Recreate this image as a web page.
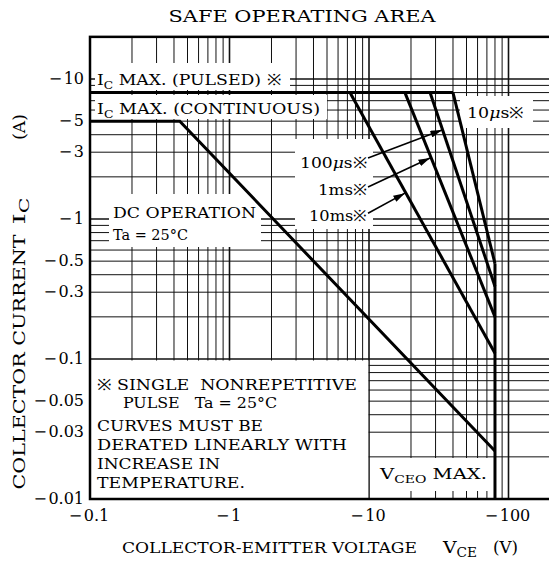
<!DOCTYPE html>
<html lang="en">
  <head>
    <meta charset="UTF-8" />
    <title>Safe Operating Area</title>
    <script src="https://d3js.org/d3.v7.min.js"></script>
    <style>
      body {
        margin: 0;
        background: #fff;
      }
      svg {
        display: block;
        font-family: "DejaVu Serif", serif;
      }
      svg text {
        white-space: pre;
      }
      .grid line {
        stroke: #111;
        stroke-width: 1;
      }
      .grid line.major {
        stroke-width: 1.6;
      }
      .curve {
        fill: none;
        stroke: #000;
        stroke-width: 3;
      }
    </style>
  </head>
  <body>
    <svg id="chart"></svg>
    <script>
      // axis ticks (values are magnitudes, labels carry the minus sign)
      const xTicks = [0.1, 1, 10, 100];
      const xTickLabels = ["−0.1", "−1", "−10", "−100"];
      const yTicks = [10, 5, 3, 1, 0.5, 0.3, 0.1, 0.05, 0.03, 0.01];
      const yTickLabels = ["−10", "−5", "−3", "−1", "−0.5", "−0.3", "−0.1", "−0.05", "−0.03", "−0.01"];

      // curves [VCE (V), IC (A)]
      const icPulsed = [[0.1, 8], [40, 8]];
      const dcOperation = [[0.1, 5], [0.44, 5], [80, 0.022]];
      const pulse10ms = [[7.3, 8], [80, 0.11]];
      const pulse1ms = [[18.1, 8], [80, 0.2]];
      const pulse100us = [[27.4, 8], [80, 0.33]];
      const pulse10us = [[40, 8], [80, 0.48]];
      const vceoMax = [[80, 0.48], [80, 0.01]];

      // arrows from labels to the pulse curves
      const arrows = [
        [[9.84, 2.73], [33.4, 4.32]],
        [[9.84, 1.69], [27.4, 2.73]],
        [[9.84, 1.1], [18.1, 1.53]],
      ];

      const width = 549;
      const height = 562;

      const x = d3
        .scaleLog()
        .domain([0.1, 200])
        .range([90, 90 + 139.5 * Math.log10(2000)]);
      const y = d3
        .scaleLog()
        .domain([0.01, 20])
        .range([499, 499 - 140 * Math.log10(2000)]);

      const svg = d3
        .select("#chart")
        .attr("width", width)
        .attr("height", height)
        .attr("viewBox", [0, 0, width, height]);

      svg.append("rect").attr("width", width).attr("height", height).attr("fill", "#fff");

      // grid values
      const xGrid = [];
      [0.1, 1, 10, 100].forEach((d) => {
        for (let k = 1; k <= 9; k++) if (d * k < 200) xGrid.push({ v: d * k, major: k === 1 });
      });
      const yGrid = [];
      [0.01, 0.1, 1, 10].forEach((d) => {
        for (let k = 1; k <= 9; k++) if (d * k < 20) yGrid.push({ v: d * k, major: k === 1 });
      });

      const [x0, x1] = x.range();
      const [y0, y1] = y.range();

      const grid = svg.append("g").attr("class", "grid");
      grid
        .selectAll("line.v")
        .data(xGrid)
        .join("line")
        .attr("class", (d) => (d.major ? "v major" : "v"))
        .attr("x1", (d) => x(d.v))
        .attr("x2", (d) => x(d.v))
        .attr("y1", y0)
        .attr("y2", y1);
      grid
        .selectAll("line.h")
        .data(yGrid)
        .join("line")
        .attr("class", (d) => (d.major ? "h major" : "h"))
        .attr("x1", x0)
        .attr("x2", x1)
        .attr("y1", (d) => y(d.v))
        .attr("y2", (d) => y(d.v));

      // white label boxes
      const boxes = [
        [95, 63, 290, 90],
        [95, 95, 327, 119],
        [460, 96, 533, 128],
        [295, 139, 373, 229],
        [109, 194, 261, 247],
        [91, 360.5, 368.3, 498],
        [371, 458, 492, 491],
      ];
      svg
        .append("g")
        .selectAll("rect")
        .data(boxes)
        .join("rect")
        .attr("x", (d) => d[0])
        .attr("y", (d) => d[1])
        .attr("width", (d) => d[2] - d[0])
        .attr("height", (d) => d[3] - d[1])
        .attr("fill", "#fff");

      // curves
      const line = d3
        .line()
        .x((d) => x(d[0]))
        .y((d) => y(d[1]));
      svg
        .append("g")
        .selectAll("path")
        .data([icPulsed, dcOperation, pulse10ms, pulse1ms, pulse100us, pulse10us, vceoMax])
        .join("path")
        .attr("class", "curve")
        .attr("d", line);

      // border
      svg
        .append("rect")
        .attr("x", x0)
        .attr("y", y1)
        .attr("width", x1 - x0)
        .attr("height", y0 - y1)
        .attr("fill", "none")
        .attr("stroke", "#000")
        .attr("stroke-width", 2.5);

      // arrows
      svg
        .append("defs")
        .append("marker")
        .attr("id", "head")
        .attr("viewBox", "0 0 10 6")
        .attr("refX", 10)
        .attr("refY", 3)
        .attr("markerUnits", "userSpaceOnUse")
        .attr("markerWidth", 12)
        .attr("markerHeight", 7)
        .attr("orient", "auto")
        .append("path")
        .attr("d", "M0,0L10,3L0,6Z")
        .attr("fill", "#000");
      svg
        .append("g")
        .selectAll("path")
        .data(arrows)
        .join("path")
        .attr("d", line)
        .attr("stroke", "#000")
        .attr("stroke-width", 1.6)
        .attr("fill", "none")
        .attr("marker-end", "url(#head)");

      // tick labels
      svg
        .append("g")
        .attr("font-size", 16)
        .attr("text-anchor", "end")
        .selectAll("text")
        .data(yTicks)
        .join("text")
        .attr("x", 84)
        .attr("y", (d) => y(d) + 5)
        .text((d, i) => yTickLabels[i].replace("−", "−\u200a"));
      svg
        .append("g")
        .attr("font-size", 16)
        .attr("text-anchor", "middle")
        .selectAll("text")
        .data(xTicks)
        .join("text")
        .attr("x", (d) => x(d) - 1)
        .attr("y", 521)
        .text((d, i) => xTickLabels[i].replace("−", "−\u200a"));

      // text helper: parts may be subscripts, italic; len stretches to the reference width
      function label(px, py, parts, len, opts = {}) {
        const t = svg
          .append("text")
          .attr("x", px)
          .attr("y", py)
          .attr("font-size", opts.size || 15.5)
          .attr("text-anchor", opts.anchor || "start");
        if (opts.transform) t.attr("transform", opts.transform);
        parts.forEach((p) => {
          const s = t.append("tspan").text(p.t);
          if (p.sub) s.attr("font-size", opts.sub || 11).attr("dy", 4);
          if (p.up) s.attr("dy", -4);
          if (p.it) s.attr("font-style", "italic");
        });
        if (len) t.attr("textLength", len).attr("lengthAdjust", "spacingAndGlyphs");
        return t;
      }

      // title
      label(302, 22, [{ t: "SAFE OPERATING AREA" }], 267, { size: 17, anchor: "middle" });

      // y axis title, rotated pieces
      const rot = (cy, size) => ({
        size: size,
        sub: 12,
        anchor: "middle",
        transform: `translate(25,${cy}) rotate(-90)`,
      });
      label(0, 0, [{ t: "COLLECTOR CURRENT" }], 255, rot(362, 16));
      label(0, 0, [{ t: "I" }, { t: "C", sub: 1 }], 27, rot(211, 16.5));
      label(0, 0, [{ t: "(A)" }], null, rot(127, 17));

      // x axis title pieces
      label(122, 553, [{ t: "COLLECTOR-EMITTER VOLTAGE" }], 295, { size: 15 });
      label(443, 553, [{ t: "V" }, { t: "CE", sub: 1 }], 34, { size: 16.5, sub: 12 });
      label(493, 553, [{ t: "(V)" }], 25, { size: 16.5 });

      // annotations
      label(97, 85, [{ t: "I" }, { t: "C", sub: 1 }, { t: " MAX. (PULSED) ※", up: 1 }], 184);
      label(97, 114, [{ t: "I" }, { t: "C", sub: 1 }, { t: " MAX. (CONTINUOUS)", up: 1 }], 223);
      label(467, 118, [{ t: "10" }, { t: "μ", it: 1 }, { t: "s※" }], 57);
      label(367, 168, [{ t: "100" }, { t: "μ", it: 1 }, { t: "s※" }], 67, { anchor: "end" });
      label(367, 195, [{ t: "1ms※" }], 49, { anchor: "end" });
      label(367, 221, [{ t: "10ms※" }], 58, { anchor: "end" });
      label(113, 218, [{ t: "DC OPERATION" }], 143);
      label(113, 240, [{ t: "Ta = 25°C" }], 75);
      label(97, 390, [{ t: "※ SINGLE  NONREPETITIVE" }], 260);
      label(123, 408, [{ t: "PULSE   Ta = 25°C" }], 154);
      label(97, 431, [{ t: "CURVES MUST BE" }], 166);
      label(97, 450, [{ t: "DERATED LINEARLY WITH" }], 250);
      label(97, 469, [{ t: "INCREASE IN" }], 123);
      label(97, 488, [{ t: "TEMPERATURE." }], 148);
      label(380, 479, [{ t: "V" }, { t: "CEO", sub: 1 }, { t: " MAX.", up: 1 }], 107);
    </script>
  </body>
</html>
